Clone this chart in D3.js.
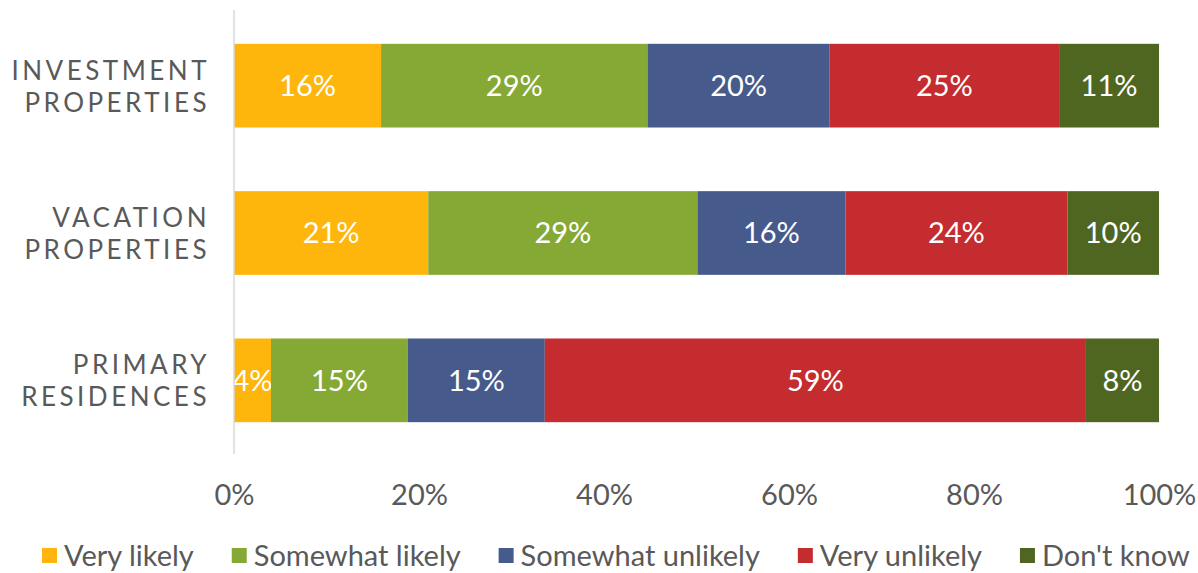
<!DOCTYPE html>
<html>
<head>
<meta charset="utf-8">
<script src="https://cdn.jsdelivr.net/npm/d3@7"></script>
<style>
  body { margin: 0; background: #fff; }
  svg text { font-family: "Lato", "Open Sans", sans-serif; }
</style>
</head>
<body>
<svg id="chart" width="1198" height="573"></svg>
<script>
// categories, top to bottom
var categories = [["INVESTMENT", "PROPERTIES"], ["VACATION", "PROPERTIES"], ["PRIMARY", "RESIDENCES"]];
var seriesNames = ["Very likely", "Somewhat likely", "Somewhat unlikely", "Very unlikely", "Don't know"];
var colors = ["#FFB60C", "#85A934", "#465A8C", "#C42C2F", "#4F6621"];

// shares (%), one array per series, in category order
var veryLikely       = [15.9, 21.0, 4.0];
var somewhatLikely   = [28.8, 29.1, 14.8];
var somewhatUnlikely = [19.7, 16.0, 14.8];
var veryUnlikely     = [24.8, 24.0, 58.5];
var dontKnow         = [10.8, 9.9, 7.9];
var labels = [
  ["16%", "29%", "20%", "25%", "11%"],
  ["21%", "29%", "16%", "24%", "10%"],
  ["4%", "15%", "15%", "59%", "8%"]
];
var tickValues = [0, 20, 40, 60, 80, 100];

var series = [veryLikely, somewhatLikely, somewhatUnlikely, veryUnlikely, dontKnow];

var rows = categories.map(function(c, i) {
  var r = {key: i};
  series.forEach(function(s, j) { r["s" + j] = s[i]; });
  return r;
});
var keys = series.map(function(s, j) { return "s" + j; });
var stacked = d3.stack().keys(keys)(rows);

var svg = d3.select("#chart");
var margin = {left: 234, right: 39, top: 12, bottom: 119};
var width = 1198 - margin.left - margin.right;
var height = 573 - margin.top - margin.bottom;

var x = d3.scaleLinear().domain([0, 100]).range([0, width]);
var y = d3.scaleBand().domain([0, 1, 2]).range([0, height]).paddingInner(0.432).paddingOuter(0.216);

var g = svg.append("g").attr("transform", "translate(" + margin.left + "," + margin.top + ")");

// bars
var layers = g.selectAll(".layer")
    .data(stacked)
    .enter().append("g")
    .attr("class", "layer")
    .attr("fill", function(d, i) { return colors[i]; });

layers.selectAll("rect")
    .data(function(d) { return d; })
    .enter().append("rect")
    .attr("x", function(d) { return x(d[0]); })
    .attr("y", function(d, i) { return y(i); })
    .attr("width", function(d) { return x(d[1]) - x(d[0]); })
    .attr("height", y.bandwidth());

// value labels
layers.each(function(layer, j) {
  d3.select(this).selectAll("text")
      .data(layer)
      .enter().append("text")
      .attr("x", function(d) { return (x(d[0]) + x(d[1])) / 2; })
      .attr("y", function(d, i) { return y(i) + y.bandwidth() / 2; })
      .attr("dy", "0.36em")
      .attr("text-anchor", "middle")
      .attr("fill", "#fff")
      .style("font-size", "29px")
      .text(function(d, i) { return labels[i][j]; });
});

// y axis line
g.append("line")
    .attr("x1", 0).attr("x2", 0)
    .attr("y1", -2).attr("y2", height)
    .attr("stroke", "#D9D9D9")
    .attr("stroke-width", 1.5);

// category labels
var cat = g.selectAll(".cat")
    .data(categories)
    .enter().append("text")
    .attr("class", "cat")
    .attr("text-anchor", "end")
    .attr("fill", "#595959")
    .style("font-size", "26px")
    .style("letter-spacing", "3.5px")
    .attr("transform", function(d, i) { return "translate(-24," + (y(i) + y.bandwidth() / 2) + ")"; });
cat.selectAll("tspan")
    .data(function(d) { return d; })
    .enter().append("tspan")
    .attr("x", 0)
    .attr("y", function(d, i) { return i === 0 ? -6 : 26; })
    .text(function(d) { return d; });

// x axis
var xAxis = g.append("g")
    .attr("transform", "translate(0," + height + ")")
    .call(d3.axisBottom(x).tickValues(tickValues).tickSize(0).tickFormat(function(d) { return d + "%"; }));
xAxis.select(".domain").remove();
xAxis.selectAll("text")
    .attr("fill", "#595959")
    .attr("dy", 0)
    .attr("y", 51)
    .style("font-family", "Lato, sans-serif")
    .style("font-size", "29px");

// legend
var legend = svg.append("g").attr("transform", "translate(0,556)");
var items = legend.selectAll(".item")
    .data(seriesNames)
    .enter().append("g")
    .attr("class", "item");
items.append("rect")
    .attr("x", 0).attr("y", -8)
    .attr("width", 15).attr("height", 15)
    .attr("fill", function(d, i) { return colors[i]; });
items.append("text")
    .attr("x", 22)
    .attr("dy", "0.36em")
    .attr("fill", "#595959")
    .style("font-size", "29px")
    .text(function(d) { return d; });

// spread legend items across the same span as the original
var widths = [];
items.each(function() { widths.push(this.getBBox().width); });
var left = 42, right = 1190;
var gap = (right - left - d3.sum(widths)) / (widths.length - 1);
var pos = left;
items.attr("transform", function(d, i) {
  var p = pos;
  pos += widths[i] + gap;
  return "translate(" + p + ",0)";
});
</script>
</body>
</html>
